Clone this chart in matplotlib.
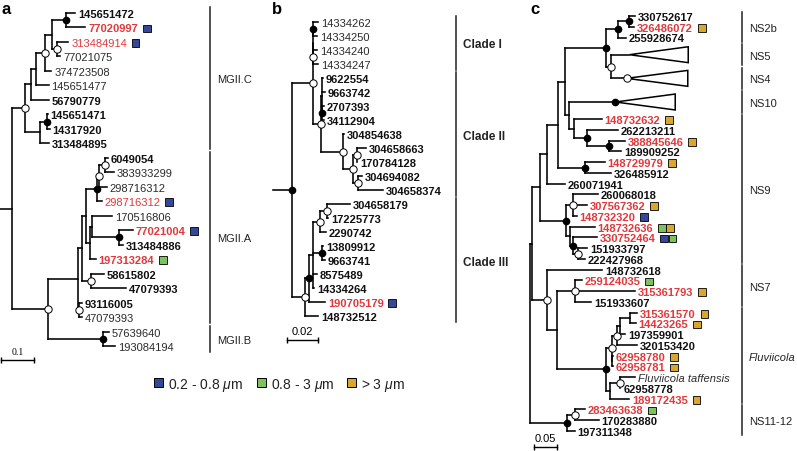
import matplotlib
matplotlib.use('Agg')
import matplotlib.pyplot as plt
from matplotlib.patches import Rectangle, Polygon
from matplotlib.offsetbox import AnnotationBbox, DrawingArea

plt.rcParams['font.family'] = ['Liberation Sans', 'DejaVu Sans']
plt.rcParams['mathtext.fontset'] = 'custom'
plt.rcParams['mathtext.it'] = 'Liberation Sans:italic'
plt.rcParams['mathtext.rm'] = 'Liberation Sans'

W, H = 797, 452
RED = '#e2383b'
FRACTION_COLORS = {'B': '#34479a', 'G': '#7cc35d', 'O': '#d9a630'}

# ---------------- data: panel a (MGII, branch lengths in subst./site) ----------------
tree_a = """(((((((145651472:0.027,77020997:0.058)*:0.042,(313484914:0.033,77021075:0.009)o:0.015):0.024,
374723508:0.021)o:0.027,145651477:0.039):0.015,56790779:0.055):0.018,
((145651471:0.003,14317920:0.009)*:0.021,313484895:0.027):0.045)o:0.039,
(((((((6049054:0.009,383933299:0.027)o:0.018,298716312:0.024)o:0.006,298716312~r:0.015)*:0.033,
((170516806:0.061,(77021004:0.042,313484886:0.012)*:0.082):0.006,197313284:0.018):0.012):0.012,
(58615802:0.039,47079393:0.106)o:0.027):0.012,(93116005:0.009,47079393~2:0.009)o:0.003):0.091,
(57639640:0.018,193084194:0.036)*:0.167)o:0.109):0.036"""
red_a = ['77020997', '313484914', '298716312~r', '77021004', '197313284']
plain_a = ['77021075', '374723508', '145651477', '383933299', '298716312', '170516806',
           '47079393~2', '57639640', '193084194', '313484914', '298716312~r']
sizes_a = {'77020997': 'B', '313484914': 'B', '298716312~r': 'B', '77021004': 'B', '197313284': 'G'}
clades_a = [('MGII.C', '145651472', '313484895'), ('MGII.A', '6049054', '47079393~2'),
            ('MGII.B', '57639640', '193084194')]

# ---------------- data: panel b ----------------
tree_b = """((((14334262:0.0032,14334250:0.0026)*:0.0,(14334240:0.0026,14334247:0.0032)o:0.0):0.0,
((9622554:0.0006,9663742:0.0019,(2707393:0.0013,34112904:0.0013)*:0.0):0.0006,
(304854638:0.0006,((304658663:0.0058,170784128:0.0)o:0.0026,(304694082:0.0026,304658374:0.0161)o:0.0032)o:0.0065)o:0.0142)o:0.0052)o:0.0135,
(((((304658179:0.0148,17225773:0.0006)o:0.0045,2290742:0.0039)o:0.0045,(13809912:0.0006,9663741:0.0019)*:0.0058,
8575489:0.0026,14334264:0.0006):0.0026,190705179:0.0103)*:0.0026,148732512:0.0084)o:0.0084)*:0.0123"""
red_b = ['190705179']
plain_b = ['14334262', '14334250', '14334240', '14334247']
sizes_b = {'190705179': 'B'}
clades_b = [('Clade I', '14334262', '14334247'), ('Clade II', '9622554', '304658374'),
            ('Clade III', '304658179', '148732512')]

# ---------------- data: panel c ----------------
tree_c = """(((((((((330752617:0.013,326486072:0.011)*:0.024,255928674:0.017)*:0.026,(NS5:0.039,NS4:0.033)o:0.011)*:0.089,
(NS10:0.100,(148732632:0.059,(262213211:0.067,(388845646:0.033,189909252:0.026)*:0.048)*:0.028):0.011):0.0087):0.017,
(148729979:0.043,326485912:0.057)*:0.059):0.022,260071941:0.037):0.017,
((260068018:0.054,307567362:0.030,148732320:0.0087)o:0.015,
(148732636:0.054,(330752464:0.052,(151933797:0.020,222427968:0.015)o:0.011)*:0.0065):0.0087)*:0.057):0.017,
(148732618:0.120,((259124035:0.015,315361793:0.130,151933607:0.035)o:0.039,
(((((315361570:0.017,14423265:0.013):0.020,197359901:0.011):0.0065,320153420:0.043)o:0.011,
(62958780:0.001,62958781:0.001):0.0)o:0.013,((Fluviicola_taffensis:0.033,62958778:0.002)o:0.020,189172435:0.041):0.0087)*:0.107):0.022)o:0.033):0.004,
((283463638:0.022,170283880:0.052)o:0.017,197311348:0.017)*:0.080)"""
red_c = ['326486072', '148732632', '388845646', '148729979', '307567362', '148732320', '148732636',
         '330752464', '259124035', '315361793', '315361570', '14423265', '62958780', '62958781',
         '189172435', '283463638']
plain_c = ['Fluviicola_taffensis']
italic_c = ['Fluviicola_taffensis']
sizes_c = {'326486072': 'O', '148732632': 'O', '388845646': 'O', '148729979': 'O', '307567362': 'O',
           '148732320': 'B', '148732636': 'GO', '330752464': 'BG', '259124035': 'G', '315361793': 'O',
           '315361570': 'O', '14423265': 'O', '62958780': 'O', '62958781': 'O', '189172435': 'O',
           '283463638': 'G'}
collapsed_c = {'NS5': 0.128, 'NS4': 0.133, 'NS10': 0.130}
apex_c = {'NS4': 'o', 'NS10': '*'}
clades_c = [('NS2b', '330752617', '255928674'), ('NS5', 'NS5', 'NS5'), ('NS4', 'NS4', 'NS4'),
            ('NS10', 'NS10', 'NS10'), ('NS9', '148732632', '222427968'), ('NS7', '148732618', '151933607'),
            ('Fluviicola', '315361570', '189172435'), ('NS11-12', '283463638', '197311348')]

legend_labels = [('B', r'0.2 - 0.8 $\mathit{\mu}$m'), ('G', r'0.8 - 3 $\mathit{\mu}$m'), ('O', r'> 3 $\mathit{\mu}$m')]


def parse_newick(s):
    s = ''.join(s.split())
    pos = 0

    def node():
        nonlocal pos
        n = {'children': [], 'name': '', 'length': 0.0}
        if s[pos] == '(':
            pos += 1
            while True:
                n['children'].append(node())
                if s[pos] == ',':
                    pos += 1
                else:
                    break
            pos += 1
        start = pos
        while pos < len(s) and s[pos] not in ',():':
            pos += 1
        n['name'] = s[start:pos]
        if pos < len(s) and s[pos] == ':':
            pos += 1
            start = pos
            while pos < len(s) and s[pos] not in ',()':
                pos += 1
            n['length'] = float(s[start:pos])
        return n
    return node()


def layout(root, heights):
    leaves = []
    slot = [0.0]

    def walk(n, x):
        n['x'] = x + n['length']
        if n['children']:
            for c in n['children']:
                walk(c, n['x'])
            n['y'] = (n['children'][0]['y'] + n['children'][-1]['y']) / 2
        else:
            h = heights.get(n['name'], 1.0)
            n['y'] = slot[0] + h / 2 - 0.5
            slot[0] += h
            leaves.append(n)
    walk(root, 0.0)
    return leaves


def support(ax, x, y, kind):
    if kind == '*':
        ax.plot(x, y, 'o', ms=4.5, color='k', zorder=4)
    elif kind == 'o':
        ax.plot(x, y, 'o', ms=5.3, mfc='white', mec='k', mew=0.7, zorder=4)


def add_fractions(ax, txt, codes):
    da = DrawingArea(len(codes) * 6.0, 5.6, 0, 0)
    for i, code in enumerate(codes):
        da.add_artist(Rectangle((i * 6.0, 0), 5.6, 5.6, fc=FRACTION_COLORS[code], ec='k', lw=0.6))
    ab = AnnotationBbox(da, (1, 0.5), xycoords=txt, xybox=(3.5, 0), boxcoords='offset points',
                        box_alignment=(0, 0.5), frameon=False, pad=0)
    ax.add_artist(ab)


fig = plt.figure(figsize=(W / 100, H / 100), dpi=100)


def draw_panel(left, width, off, scale, y0, dy, newick, red, plain, sizes, clades, bar_px,
               bar_bold=False, collapsed=None, apex=None, italic=()):
    collapsed = collapsed or {}
    apex = apex or {}
    ax = fig.add_axes([left / W, 0, width / W, 1])
    ax.axis('off')
    ax.set_xlim(-off / scale, (width - off) / scale)
    ax.set_ylim((H - y0) / dy, -y0 / dy)
    root = parse_newick(newick)
    heights = {k: 2.2 for k in collapsed}
    leaves = layout(root, heights)
    kw = dict(color='k', lw=1.15, solid_capstyle='projecting', zorder=2)
    if root['length'] > 0:
        ax.plot([0, root['x']], [root['y']] * 2, **kw)

    def walk(n):
        if n['children']:
            ys = [c['y'] for c in n['children']]
            ax.plot([n['x'], n['x']], [min(ys), max(ys)], **kw)
            for c in n['children']:
                ax.plot([n['x'], c['x']], [c['y'], c['y']], **kw)
                walk(c)
            support(ax, n['x'], n['y'], n['name'])
    walk(root)

    pos = {}
    for lf in leaves:
        name = lf['name']
        pos[name] = lf['y']
        if name in collapsed:
            d, h = collapsed[name], 0.74
            ax.add_patch(Polygon([(lf['x'], lf['y']), (lf['x'] + d, lf['y'] - h), (lf['x'] + d, lf['y'] + h)],
                                 closed=True, fc='none', ec='k', lw=1.1, zorder=2))
            support(ax, lf['x'], lf['y'], apex.get(name, ''))
            continue
        color = RED if name in red else ('#2b2b2b' if name in plain else '#111111')
        txt = ax.annotate(name.split('~')[0].replace('_', ' '), (lf['x'], lf['y']), xytext=(2.0, 0),
                          textcoords='offset points', va='center_baseline', ha='left', fontsize=8,
                          color=color, fontweight='normal' if name in plain else 'bold',
                          fontstyle='italic' if name in italic else 'normal')
        if name in sizes:
            add_fractions(ax, txt, sizes[name])

    bx = (bar_px - left - off) / scale
    for label, first, last in clades:
        h0 = heights.get(first, 1.0) / 2
        h1 = heights.get(last, 1.0) / 2
        top, bot = pos[first] - h0 + 0.1, pos[last] + h1 - 0.1
        ax.plot([bx, bx], [top, bot], color='#222222', lw=1.1)
        ax.annotate(label, (bx, (top + bot) / 2), xytext=(5, 0), textcoords='offset points',
                    va='center_baseline', ha='left', fontsize=8.5 if bar_bold else 8,
                    fontweight='bold' if bar_bold else 'normal',
                    fontstyle='italic' if label == 'Fluviicola' else 'normal', color='#222222')
    return ax, leaves


def scale_bar(ax, left, off, scale, y0, dy, x_px, y_px, length, label, serif=False):
    x = (x_px - left - off) / scale
    y = (y_px - y0) / dy
    ax.plot([x, x + length], [y, y], color='k', lw=1.0)
    ax.plot([x, x + length], [y, y], '|', color='k', ms=5, mew=1.0)
    ax.annotate(label, (x + length / 2, y), xytext=(0, 3), textcoords='offset points', ha='center',
                va='bottom', fontsize=7 if serif else 8,
                family=['Liberation Serif', 'DejaVu Serif'] if serif else None)


ax_a, _ = draw_panel(0, 265, 0, 330, 14, 14.48, tree_a, red_a, plain_a, sizes_a, clades_a, 210)
scale_bar(ax_a, 0, 0, 330, 14, 14.48, 1, 361, 0.1, '0.1', serif=True)

ax_b, _ = draw_panel(270, 260, 3, 1550, 23, 14.0, tree_b, red_b, plain_b, sizes_b, clades_b, 456,
                     bar_bold=True)
scale_bar(ax_b, 270, 3, 1550, 23, 14.0, 287, 341, 0.02, '0.02')

ax_c, _ = draw_panel(527, 270, 3, 460, 17, 10.75, tree_c, red_c, plain_c, sizes_c, clades_c, 742,
                     collapsed=collapsed_c, apex=apex_c, italic=italic_c)
scale_bar(ax_c, 527, 3, 460, 17, 10.75, 534, 448, 0.05, '0.05')

for letter, x in [('a', 2), ('b', 272), ('c', 530)]:
    fig.text(x / W, 1 - 9 / H, letter, fontsize=12, fontweight='bold', va='center', ha='left')

for (code, label), x in zip(legend_labels, [154, 257, 347]):
    fig.add_artist(Rectangle((x / W, 1 - 388 / H), 9 / W, 9 / H, fc=FRACTION_COLORS[code], ec='k', lw=0.7))
    fig.text((x + 14) / W, 1 - 383 / H, label, fontsize=10, va='center_baseline', ha='left', color='#222222')

fig.savefig('out.png', dpi=100)
